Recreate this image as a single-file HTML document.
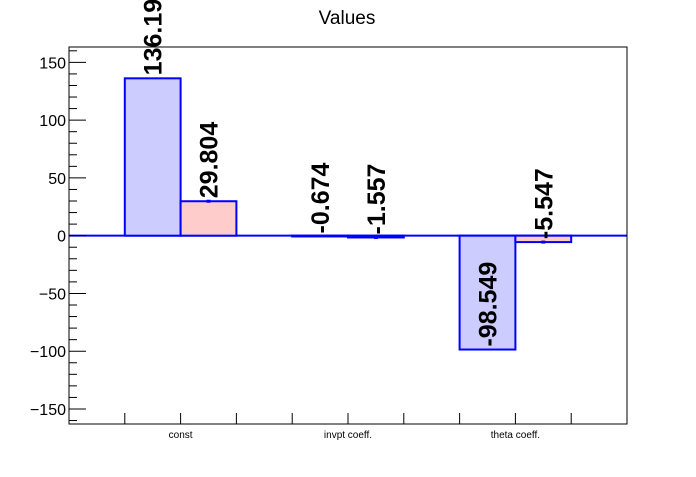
<!DOCTYPE html>
<html><head><meta charset="utf-8"><style>
body{margin:0;background:#fff;}
svg text{font-family:"Liberation Sans",sans-serif;}
</style></head><body>
<svg id="chart" width="696" height="472" xmlns="http://www.w3.org/2000/svg">
<rect width="696" height="472" fill="#fff"/>
<text x="347" y="24" font-size="19" text-anchor="middle">Values</text>
<g id="marks"></g>
<rect x="69" y="47" width="558" height="377" fill="none" stroke="#000" stroke-width="1"/>
<g id="axes"></g>
</svg>
<script>
const categories = ["const", "invpt coeff.", "theta coeff."];
const series1 = [136.19, -0.674, -98.549];
const series2 = [29.804, -1.557, -5.547];
const labels1 = ["136.19", "-0.674", "-98.549"];
const labels2 = ["29.804", "-1.557", "-5.547"];
const yTicks = [-150, -100, -50, 0, 50, 100, 150];
const yTickLabels = ["\u2212150", "\u2212100", "\u221250", "0", "50", "100", "150"];

const X0 = 69, X1 = 627, Y0 = 47, Y1 = 424, NB = 10;
const YMIN = -163, YMAX = 163.3;
const bw = (X1 - X0) / NB;
function xBin(i){ return X0 + i * bw; }
function y(v){ return Y1 - (v - YMIN) / (YMAX - YMIN) * (Y1 - Y0); }
const NS = "http://www.w3.org/2000/svg";
function mk(tag, attrs, parent){ const e = document.createElementNS(NS, tag); for (const k in attrs) e.setAttribute(k, attrs[k]); parent.appendChild(e); return e; }
const marks = document.getElementById("marks");
const axes = document.getElementById("axes");

// zero line across the frame
const zl = mk("line", {x1: X0, x2: X1, y1: y(0), y2: y(0), stroke: "#0000ff", "stroke-width": 2}, marks);



function drawBar(bin, v, fill, name, label, errMark){
  const xa = xBin(bin), ya = Math.min(y(v), y(0)), h = Math.max(Math.abs(y(v) - y(0)), 0.5);
  const r = mk("rect", {x: xa, y: ya, width: bw, height: h, fill: fill, stroke: "#0000ff", "stroke-width": 2}, marks);
  
  
  if (errMark) {
    const m = mk("rect", {x: xa + bw/2 - 2, y: y(v) - 1.5, width: 4, height: 3, fill: "#0000ff"}, marks);
    
    
  }
  const cx = xa + bw/2 + 9, sy = y(v) - 3;
  const t = mk("text", {x: 0, y: 0, "font-size": 25, "font-weight": "bold", transform: "translate(" + cx + "," + sy + ") rotate(-90)"}, marks);
  t.textContent = label;
  
  
}
categories.forEach((c, i) => {
  drawBar(1 + 3*i, series1[i], "#ccccff", "bar-series1-" + i, labels1[i], false);
  drawBar(2 + 3*i, series2[i], "#ffcccc", "bar-series2-" + i, labels2[i], true);
  const lt = mk("text", {x: xBin(2 + 3*i), y: 438, "font-size": 10, "text-anchor": "middle"}, axes);
  lt.textContent = c;
  
  
});

// x ticks
for (let i = 1; i < NB; i++) {
  const t = mk("line", {x1: xBin(i), x2: xBin(i), y1: Y1, y2: Y1 - 11, stroke: "#000", "stroke-width": 1}, axes);
  
  
}
// y ticks
for (let v = -160; v <= 160; v += 10) {
  const major = v % 50 === 0;
  const t = mk("line", {x1: X0, x2: X0 + (major ? 17 : 8), y1: y(v), y2: y(v), stroke: "#000", "stroke-width": 1}, axes);
  
  
}
yTicks.forEach((v, i) => {
  const t = mk("text", {x: 66, y: y(v) + 6, "font-size": 16, "text-anchor": "end"}, axes);
  t.textContent = yTickLabels[i];
  
  
});
</script>
</body></html>
